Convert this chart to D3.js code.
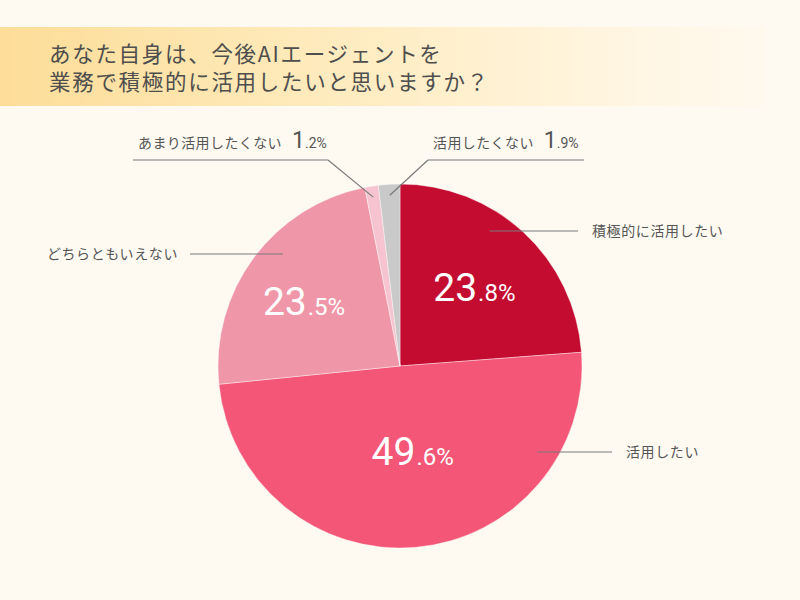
<!DOCTYPE html>
<html>
<head>
<meta charset="utf-8">
<script src="https://cdn.jsdelivr.net/npm/d3@7"></script>
<style>
  html, body { margin: 0; padding: 0; background: #fefaf2; }
  svg { display: block; }
</style>
</head>
<body>
<div id="chart"></div>
<script>
const titleLines = ["あなた自身は、今後AIエージェントを", "業務で積極的に活用したいと思いますか？"];
const categories = ["積極的に活用したい", "活用したい", "どちらともいえない", "あまり活用したくない", "活用したくない"];
const values = [23.8, 49.6, 23.5, 1.2, 1.9];
const colors = ["#c40b30", "#f35677", "#ef97a8", "#f6c4d0", "#c9c9c9"];

const width = 800;
const height = 600;
const cx = 400, cy = 366, R = 182;

const svg = d3.select("#chart").append("svg")
  .attr("width", width)
  .attr("height", height);

const defs = svg.append("defs");
const bandGrad = defs.append("linearGradient")
  .attr("id", "band").attr("x1", "0%").attr("x2", "100%");
[[0, "#fddd98", 1], [0.4, "#feeabb", 1], [0.8, "#fff5e0", 1], [1, "#fff8ea", 0.6]].forEach(s => {
  bandGrad.append("stop").attr("offset", s[0] * 100 + "%")
    .attr("stop-color", s[1]).attr("stop-opacity", s[2]);
});

svg.append("rect").attr("width", width).attr("height", height).attr("fill", "#fefaf2");
svg.append("rect").attr("x", 0).attr("y", 27).attr("width", 765).attr("height", 79)
  .attr("fill", "url(#band)");

svg.append("g").selectAll("text")
  .data(titleLines)
  .join("text")
  .attr("x", 49)
  .attr("y", (d, i) => 62 + i * 28)
  .attr("font-family", "'Noto Sans CJK JP', sans-serif")
  .attr("font-size", 21.5)
  .attr("letter-spacing", 1.7)
  .attr("fill", "#4e4e4e")
  .text(d => d);

const data = categories.map((c, i) => ({ name: c, value: values[i], color: colors[i] }));

const pie = d3.pie().value(d => d.value).sort(null);
const arcs = pie(data);
const arc = d3.arc().innerRadius(0).outerRadius(R);

const g = svg.append("g").attr("transform", `translate(${cx},${cy})`);

g.selectAll("path")
  .data(arcs)
  .join("path")
  .attr("d", arc)
  .attr("fill", d => d.data.color)
  .attr("stroke", "#fff")
  .attr("stroke-width", 0.4);

// label layout (not data)
const bigLabel = {
  "積極的に活用したい": { r: 105, dx: 3, dy: 12, side: 1, ly: 231, x2: 578 },
  "活用したい": { r: 88, dx: 5, dy: 11, side: 1, ly: 452, x2: 612 },
  "どちらともいえない": { r: 112, dx: -6, dy: 16, side: -1, ly: 254, x2: 190 }
};
const smallLabel = {
  "あまり活用したくない": { x1: 133, x2: 328, elbow: 328, ly: 160, tx: 138 },
  "活用したくない": { x1: 428, x2: 584, elbow: 428, ly: 160, tx: 433 }
};

const fmt = d3.format(".1f");
const lineColor = "#7a7a7a";
const labelFont = "'Noto Sans CJK JP', sans-serif";
const numFont = "Roboto, 'Liberation Sans', sans-serif";

arcs.forEach(a => {
  const name = a.data.name;
  const parts = fmt(a.data.value).split(".");
  const mid = (a.startAngle + a.endAngle) / 2;

  if (bigLabel[name]) {
    const L = bigLabel[name];
    const px = Math.sin(mid) * L.r + L.dx;
    const py = -Math.cos(mid) * L.r + L.dy;
    const t = g.append("text")
      .attr("x", px).attr("y", py)
      .attr("text-anchor", "middle")
      .attr("fill", "#fff")
      .attr("font-family", numFont);
    t.append("tspan").attr("font-size", 39).text(parts[0]);
    t.append("tspan").attr("font-size", 24).attr("dx", 1).text("." + parts[1] + "%");

    const dy = L.ly - cy;
    const x1 = cx + L.side * Math.sqrt(162 * 162 - dy * dy);
    svg.append("line")
      .attr("x1", x1).attr("y1", L.ly).attr("x2", L.x2).attr("y2", L.ly)
      .attr("stroke", lineColor).attr("stroke-width", 1.2);
    svg.append("text")
      .attr("x", L.side > 0 ? L.x2 + 14 : L.x2 - 12)
      .attr("y", L.ly - 1)
      .attr("dominant-baseline", "central")
      .attr("text-anchor", L.side > 0 ? "start" : "end")
      .attr("font-family", labelFont)
      .attr("font-size", 14)
      .attr("letter-spacing", 0.6)
      .attr("fill", "#555")
      .text(name);
  } else {
    const L = smallLabel[name];
    const ex = cx + Math.sin(mid) * 171;
    const ey = cy - Math.cos(mid) * 171;
    svg.append("line")
      .attr("x1", L.x1).attr("y1", L.ly).attr("x2", L.x2).attr("y2", L.ly)
      .attr("stroke", lineColor).attr("stroke-width", 1.2);
    svg.append("line")
      .attr("x1", L.elbow).attr("y1", L.ly).attr("x2", ex).attr("y2", ey)
      .attr("stroke", lineColor).attr("stroke-width", 1.2);
    const t = svg.append("text")
      .attr("x", L.tx).attr("y", 148)
      .attr("fill", "#555");
    t.append("tspan").attr("font-family", labelFont).attr("font-size", 14).attr("letter-spacing", 0.4).text(name);
    t.append("tspan").attr("font-family", numFont).attr("font-size", 23).attr("dx", 10).text(parts[0]);
    t.append("tspan").attr("font-family", numFont).attr("font-size", 14).text("." + parts[1] + "%");
  }
});
</script>
</body>
</html>
